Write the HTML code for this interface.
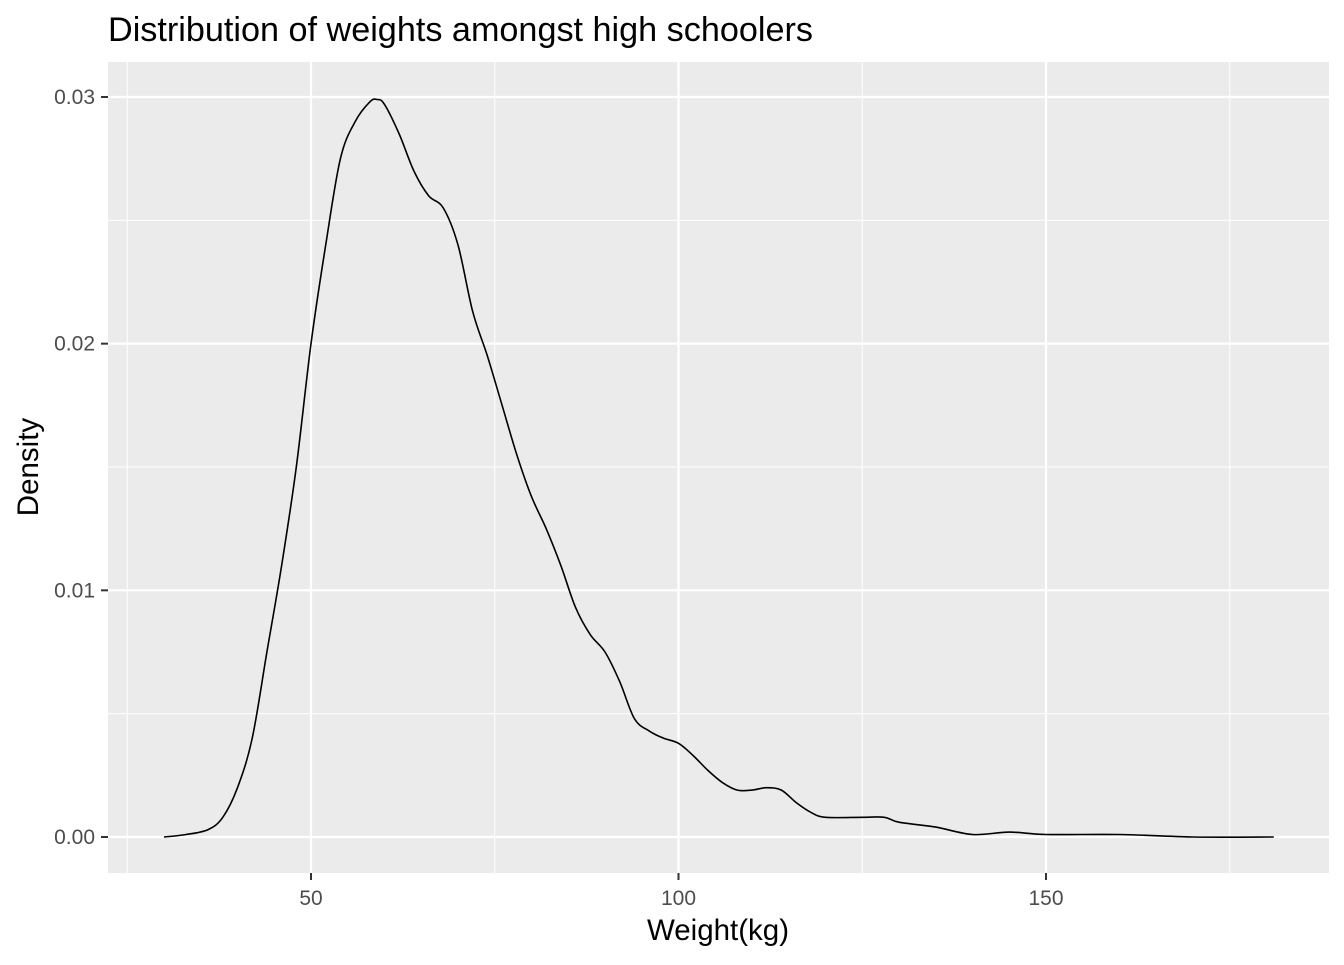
<!DOCTYPE html>
<html><head><meta charset="utf-8"><style>
html,body{margin:0;padding:0;background:#fff;}
text{font-family:"Liberation Sans",Arial,sans-serif;}
</style></head><body>
<svg id="chart" width="1344" height="960" xmlns="http://www.w3.org/2000/svg">
<rect width="1344" height="960" fill="#fff"/>
<text x="108" y="41" font-size="34" textLength="705" lengthAdjust="spacingAndGlyphs" fill="#000">Distribution of weights amongst high schoolers</text>
<rect x="108" y="62" width="1221" height="811" fill="#ebebeb"/>
<g id="grid"></g>
<g id="axes"></g>
<path id="curve" fill="none" stroke="#000" stroke-width="1.6"/>
<text x="718" y="940" font-size="29.5" text-anchor="middle" fill="#000">Weight(kg)</text>
<text transform="translate(38,467) rotate(-90)" font-size="29.5" text-anchor="middle" fill="#000">Density</text>
</svg>
<script>
const weights=[30,33,36,38,40,42,44,46,48,50,52,54,56,58,59,60,62,64,66,68,70,72,74,76,78,80,82,84,86,88,90,92,94,96,98,100,102,104,106,108,110,112,114,116,118,120,125,128,130,135,140,145,150,160,170,181];
const densities=[0.0000,0.0001,0.0003,0.0008,0.0020,0.0040,0.0075,0.0110,0.0150,0.0200,0.0240,0.0275,0.0290,0.0298,0.0299,0.0297,0.0285,0.0270,0.0260,0.0255,0.0240,0.0213,0.0195,0.0175,0.0155,0.0138,0.0125,0.0110,0.0093,0.0082,0.0075,0.0063,0.0048,0.0043,0.0040,0.0038,0.0033,0.0027,0.0022,0.0019,0.0019,0.0020,0.0019,0.0014,0.0010,0.0008,0.0008,0.0008,0.0006,0.0004,0.0001,0.0002,0.0001,0.0001,0.0000,0.0000];
const xTicks=[50,100,150];
const xMinor=[25,75,125,175];
const yTicks=[0,0.01,0.02,0.03];
const yTickLabels=["0.00","0.01","0.02","0.03"];
const yMinor=[0.005,0.015,0.025];
function xs(v){return 311+(v-50)*7.35;}
function ys(v){return 837-v*24667;}
const NS="http://www.w3.org/2000/svg";
const grid=document.getElementById('grid'),axes=document.getElementById('axes');
function line(p,x1,y1,x2,y2,c,w,name){const l=document.createElementNS(NS,'line');
l.setAttribute('x1',x1);l.setAttribute('y1',y1);l.setAttribute('x2',x2);l.setAttribute('y2',y2);
l.setAttribute('stroke',c);l.setAttribute('stroke-width',w);


p.appendChild(l);}
function txt(p,x,y,s,anchor,name){const t=document.createElementNS(NS,'text');
t.setAttribute('x',x);t.setAttribute('y',y);t.setAttribute('font-size','21');t.setAttribute('fill','#4d4d4d');t.setAttribute('text-anchor',anchor);t.textContent=s;


p.appendChild(t);}
xMinor.forEach(v=>line(grid,xs(v),62,xs(v),873,'#fff',1,'x-minor-gridline'));
yMinor.forEach(v=>line(grid,108,ys(v),1329,ys(v),'#fff',1,'y-minor-gridline'));
xTicks.forEach(v=>{line(grid,xs(v),62,xs(v),873,'#fff',2.2,'x-major-gridline');
line(axes,xs(v),873,xs(v),880,'#333',2,'x-tick');
txt(axes,xs(v),905,String(v),'middle','x-tick-label');});
yTicks.forEach((v,i)=>{line(grid,108,ys(v),1329,ys(v),'#fff',2.2,'y-major-gridline');
line(axes,101,ys(v),108,ys(v),'#333',2,'y-tick');
txt(axes,95,ys(v)+7,yTickLabels[i],'end','y-tick-label');});
const P=weights.map((w,i)=>[xs(w),ys(densities[i])]);
let d='M'+P[0][0].toFixed(1)+','+P[0][1].toFixed(1);
for(let i=0;i<P.length-1;i++){const p0=P[Math.max(0,i-1)],p1=P[i],p2=P[i+1],p3=P[Math.min(P.length-1,i+2)];
const c1=[p1[0]+(p2[0]-p0[0])/6,p1[1]+(p2[1]-p0[1])/6],c2=[p2[0]-(p3[0]-p1[0])/6,p2[1]-(p3[1]-p1[1])/6];
d+='C'+c1[0].toFixed(1)+','+c1[1].toFixed(1)+' '+c2[0].toFixed(1)+','+c2[1].toFixed(1)+' '+p2[0].toFixed(1)+','+p2[1].toFixed(1);}
document.getElementById('curve').setAttribute('d',d);
</script>
</body></html>
